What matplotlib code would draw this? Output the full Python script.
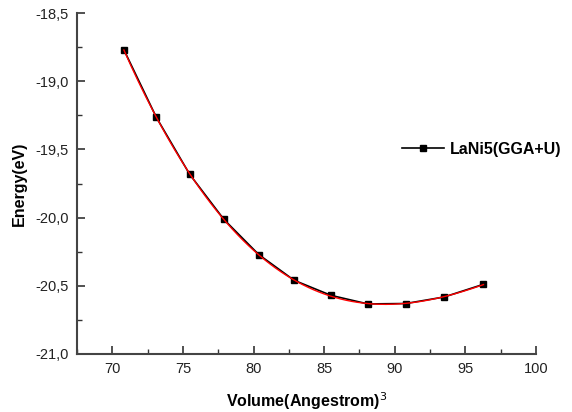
import numpy as np
import matplotlib
matplotlib.use('Agg')
import matplotlib.pyplot as plt
from matplotlib.ticker import MultipleLocator, FuncFormatter

plt.rcParams['font.family'] = ['Liberation Sans', 'DejaVu Sans']

volume = [70.82, 73.12, 75.48, 77.90, 80.38, 82.88, 85.48, 88.09, 90.78, 93.50, 96.28]
energy = [-18.769, -19.265, -19.683, -20.013, -20.272, -20.460, -20.570, -20.633, -20.630, -20.582, -20.489]
series_name = 'LaNi5(GGA+U)'

fig = plt.figure(figsize=(5.72, 4.12), dpi=100)
ax = fig.add_axes([0.1346, 0.1408, 0.8025, 0.8276])

# fitted curve (red) through the points
coef = np.polyfit(volume, energy, 3)
vfit = np.linspace(volume[0], volume[-1], 200)
ax.plot(volume, energy, color='black', lw=1.2, marker='s', ms=4.5,
        label=series_name, zorder=2)
ax.plot(vfit, np.polyval(coef, vfit), color='red', lw=1.0, zorder=3)

ax.set_xlim(67.5, 100)
ax.set_ylim(-21.0, -18.5)
ax.xaxis.set_major_locator(MultipleLocator(5))
ax.xaxis.set_minor_locator(MultipleLocator(2.5))
ax.yaxis.set_major_locator(MultipleLocator(0.5))
ax.yaxis.set_minor_locator(MultipleLocator(0.25))
ax.yaxis.set_major_formatter(FuncFormatter(lambda v, p: f'{v:.1f}'.replace('.', ',')))
ax.tick_params(which='major', direction='in', length=6, width=1.2, labelsize=10.5,
               colors='#333333', labelcolor='#222222', pad=6)
ax.tick_params(which='minor', direction='in', length=3.5, width=1.0, colors='#333333')

for s in ['top', 'right']:
    ax.spines[s].set_visible(False)
for s in ['left', 'bottom']:
    ax.spines[s].set_linewidth(1.5)
    ax.spines[s].set_color('#444444')

ax.set_xlabel('Volume(Angestrom)$^3$', fontsize=11.5, fontweight='bold', labelpad=10)
ax.set_ylabel('Energy(eV)', fontsize=11.5, fontweight='bold', labelpad=6)

ax.legend(loc='center left', bbox_to_anchor=(0.708, 0.601), frameon=False,
          prop={'weight': 'bold', 'size': 11.5}, handlelength=2.6,
          handletextpad=0.4, borderpad=0, borderaxespad=0)

fig.savefig('out.png', dpi=100)
